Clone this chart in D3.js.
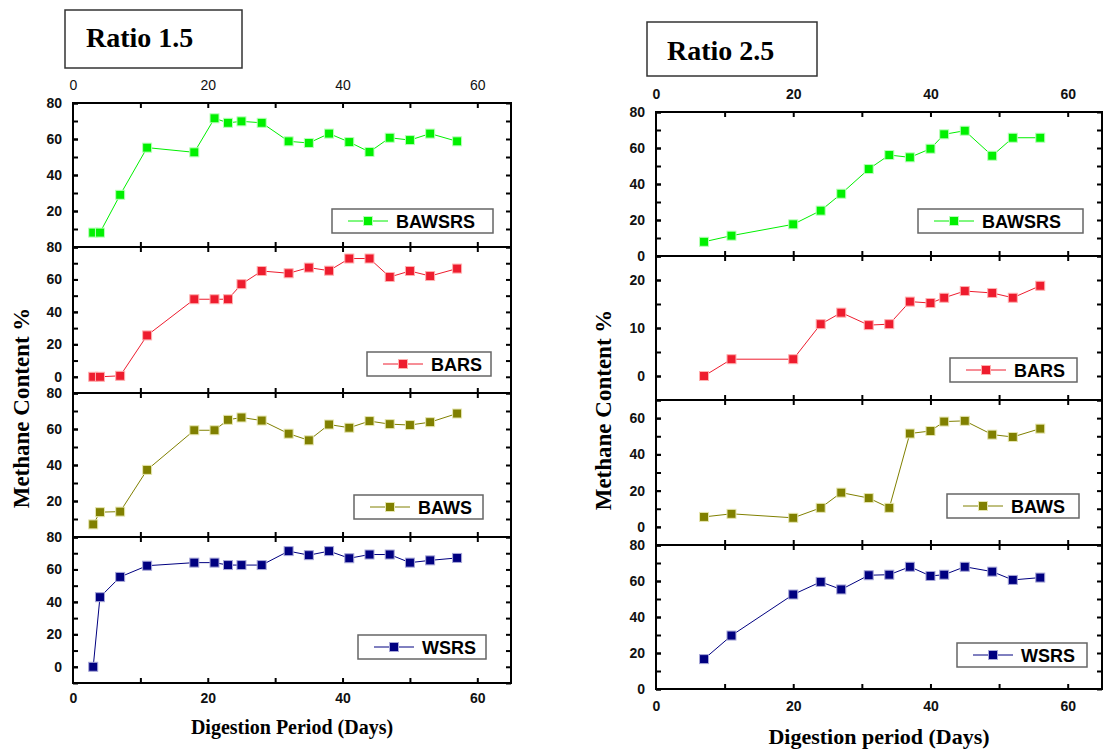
<!DOCTYPE html>
<html>
<head>
<meta charset="utf-8">
<script src="https://cdn.jsdelivr.net/npm/d3@7/dist/d3.min.js"></script>
<style>
  html, body { margin: 0; padding: 0; background: #fff; }
  svg { display: block; }
  .tick text { font-family: "Liberation Sans", Arial, sans-serif; font-weight: bold; font-size: 14px; fill: #111; }
</style>
</head>
<body>
<svg id="chart" width="1105" height="751"></svg>
<script>
// ---------------- DATA ----------------
const seriesNames = ["BAWSRS", "BARS", "BAWS", "WSRS"];
const seriesColors = ["#00f000", "#ee1c2e", "#808000", "#000080"];
const markerEdge = ["#b8ffb8", "#ffb0b0", "#e6e6b0", "#a8a8d8"];

const days15 = [3, 4, 7, 11, 18, 21, 23, 25, 28, 32, 35, 38, 41, 44, 47, 50, 53, 57];
const r15_BAWSRS = [8, 8, 29, 55.2, 52.6, 71.5, 69, 69.8, 69, 58.7, 57.8, 63, 58.3, 52.8, 60.7, 59.4, 63, 58.7];
const r15_BARS = [0, 0, 0.6, 25.5, 47.8, 47.8, 47.8, 57.1, 65.2, 63.8, 67.3, 65.4, 72.9, 72.9, 61.5, 65.2, 62.1, 66.7];
const r15_BAWS = [7, 13.8, 14.1, 37.3, 59.3, 59.3, 65.1, 66.4, 64.7, 57.4, 53.7, 62.5, 60.7, 64.4, 62.7, 62.2, 63.8, 68.6];
const r15_WSRS = [0, 42.9, 55.4, 62.3, 64.2, 64.2, 62.7, 62.7, 62.7, 71.3, 68.8, 71.3, 66.9, 69.2, 69.2, 64.2, 65.6, 67.1];

const days25 = [7, 11, 20, 24, 27, 31, 34, 37, 40, 42, 45, 49, 52, 56];
const r25_BAWSRS = [7.9, 11.3, 17.6, 25.2, 34.6, 48.3, 56.1, 54.8, 59.6, 67.6, 69.6, 55.7, 65.7, 65.7];
const r25_BARS = [0, 3.5, 3.5, 10.8, 13.2, 10.6, 10.8, 15.5, 15.2, 16.3, 17.7, 17.3, 16.3, 18.8];
const r25_BAWS = [5.5, 7.2, 5.0, 10.5, 18.9, 15.9, 10.5, 51.5, 52.9, 58.1, 58.5, 50.9, 49.6, 54.2];
const r25_WSRS = [16.6, 29.7, 52.5, 59.5, 55.3, 63.2, 63.5, 67.9, 62.8, 63.5, 67.9, 65.2, 60.6, 61.9];

const xDomain = [0, 65];
const xTickLabels = [0, 20, 40, 60];
const xMinorTicks = [10, 20, 30, 40, 50, 60];

const yDomains15 = [[0, 80], [-10, 80], [0, 80], [-10, 80]];
const yLabels15 = [[20, 40, 60, 80], [0, 20, 40, 60, 80], [20, 40, 60, 80], [0, 20, 40, 60, 80]];
const yStep15 = [10, 10, 10, 10];

const yDomains25 = [[0, 80], [-5, 25], [-10, 70], [0, 80]];
const yLabels25 = [[0, 20, 40, 60, 80], [0, 10, 20], [0, 20, 40, 60], [0, 20, 40, 60, 80]];
const yStep25 = [10, 5, 10, 10];

// ---------------- LAYOUT ----------------
const svg = d3.select("#chart");

const charts = [
  {
    title: "Ratio 1.5", titleBox: [65, 10, 177, 58], titleX: 86, titleY: 47,
    xr: [73, 511], bounds: [103, 247, 393, 537, 683],
    days: days15, series: [r15_BAWSRS, r15_BARS, r15_BAWS, r15_WSRS],
    yDomains: yDomains15, yLabels: yLabels15, yStep: yStep15,
    topLabelY: 90, topBold: false, bottomLabelY: 703,
    xTitle: "Digestion Period (Days)", xTitleX: 292, xTitleY: 734, xTitleSize: 20,
    yTitleX: 29, yTitleY: 408,
    legend: [[18, 14, 161], [20, 17, 124], [28, 18, 129], [25, 24, 128]]
  },
  {
    title: "Ratio 2.5", titleBox: [647, 22, 170, 54], titleX: 667, titleY: 60,
    xr: [656, 1102], bounds: [112, 256, 400, 545, 689],
    days: days25, series: [r25_BAWSRS, r25_BARS, r25_BAWS, r25_WSRS],
    yDomains: yDomains25, yLabels: yLabels25, yStep: yStep25,
    topLabelY: 99, topBold: true, bottomLabelY: 711,
    xTitle: "Digestion period (Days)", xTitleX: 879, xTitleY: 744, xTitleSize: 22,
    yTitleX: 611, yTitleY: 410,
    legend: [[19, 23, 165], [25, 18, 127], [23, 27, 132], [15, 22, 130]]
  }
];

charts.forEach(c => {
  // title box
  svg.append("rect")
    .attr("x", c.titleBox[0]).attr("y", c.titleBox[1])
    .attr("width", c.titleBox[2]).attr("height", c.titleBox[3])
    .attr("fill", "#fff").attr("stroke", "#333").attr("stroke-width", 1.5);
  svg.append("text")
    .attr("x", c.titleX).attr("y", c.titleY)
    .attr("font-family", "'Liberation Serif', 'Times New Roman', serif")
    .attr("font-weight", "bold").attr("font-size", 28)
    .text(c.title);

  const x = d3.scaleLinear().domain(xDomain).range(c.xr);
  const left = c.xr[0], right = c.xr[1];

  c.series.forEach((vals, i) => {
    const top = c.bounds[i], bottom = c.bounds[i + 1];
    const dom = c.yDomains[i];
    const y = d3.scaleLinear().domain(dom).range([bottom, top]);
    const minor = d3.range(Math.ceil(dom[0] / c.yStep[i]) * c.yStep[i], dom[1] + 0.001, c.yStep[i]);

    const g = svg.append("g");

    const gl = g.append("g").attr("transform", `translate(${left},0)`)
      .call(d3.axisLeft(y).tickValues(minor).tickSize(-5).tickFormat(""));
    const gl2 = g.append("g").attr("transform", `translate(${left},0)`)
      .call(d3.axisLeft(y).tickValues(c.yLabels[i]).tickSize(-5).tickPadding(11).tickFormat(d3.format("d")));
    const gr = g.append("g").attr("transform", `translate(${right},0)`)
      .call(d3.axisRight(y).tickValues(minor).tickSize(-5).tickFormat(""));
    const gt = g.append("g").attr("transform", `translate(0,${top})`)
      .call(d3.axisTop(x).tickValues(xMinorTicks).tickSize(-5).tickFormat(""));
    const gb = g.append("g").attr("transform", `translate(0,${bottom})`)
      .call(d3.axisBottom(x).tickValues(xMinorTicks).tickSize(-5).tickFormat(""));

    [gl, gl2, gr, gt, gb].forEach(a => {
      a.select(".domain").remove();
      a.selectAll(".tick line").attr("stroke", "#000").attr("stroke-width", 2);
    });

    const pts = c.days.map((d, k) => [d, vals[k]]);
    g.append("path")
      .datum(pts)
      .attr("fill", "none")
      .attr("stroke", seriesColors[i])
      .attr("stroke-width", 1)
      .attr("d", d3.line().x(d => x(d[0])).y(d => y(d[1])));

    const ms = 9;
    g.selectAll("rect.pt").data(pts).enter().append("rect")
      .attr("class", "pt")
      .attr("x", d => x(d[0]) - ms / 2).attr("y", d => y(d[1]) - ms / 2)
      .attr("width", ms).attr("height", ms)
      .attr("fill", seriesColors[i])
      .attr("stroke", markerEdge[i]).attr("stroke-width", 1);

    const [gapR, gapB, w] = c.legend[i];
    const lx = right - gapR - w, ly = bottom - gapB - 24;
    const lg = g.append("g").attr("transform", `translate(${lx},${ly})`);
    lg.append("rect").attr("width", w).attr("height", 24)
      .attr("fill", "#fff").attr("stroke", "#666").attr("stroke-width", 1.5);
    lg.append("line").attr("x1", 16).attr("x2", 56).attr("y1", 12).attr("y2", 12)
      .attr("stroke", seriesColors[i]).attr("stroke-width", 1);
    lg.append("rect").attr("x", 36 - ms / 2).attr("y", 12 - ms / 2)
      .attr("width", ms).attr("height", ms)
      .attr("fill", seriesColors[i]).attr("stroke", markerEdge[i]).attr("stroke-width", 1);
    lg.append("text").attr("x", 64).attr("y", 19)
      .attr("font-family", "'Liberation Sans', Arial, sans-serif")
      .attr("font-weight", "bold").attr("font-size", 18)
      .text(seriesNames[i]);

    g.append("rect").attr("x", left).attr("y", top)
      .attr("width", right - left).attr("height", bottom - top)
      .attr("fill", "none").attr("stroke", "#000").attr("stroke-width", 2);
  });

  const topAx = svg.append("g").attr("transform", `translate(0,${c.bounds[0]})`)
    .call(d3.axisTop(x).tickValues(xTickLabels).tickSize(0).tickPadding(c.bounds[0] - c.topLabelY));
  topAx.select(".domain").remove();
  topAx.selectAll("text").style("font-weight", c.topBold ? "bold" : "normal").attr("dy", 0);

  const nb = c.bounds.length - 1;
  const botAx = svg.append("g").attr("transform", `translate(0,${c.bounds[nb]})`)
    .call(d3.axisBottom(x).tickValues(xTickLabels).tickSize(0).tickPadding(0));
  botAx.select(".domain").remove();
  botAx.selectAll("text").attr("y", c.bottomLabelY - c.bounds[nb]).attr("dy", 0);

  svg.append("text")
    .attr("x", c.xTitleX).attr("y", c.xTitleY)
    .attr("text-anchor", "middle")
    .attr("font-family", "'Liberation Serif', 'Times New Roman', serif")
    .attr("font-weight", "bold").attr("font-size", c.xTitleSize)
    .text(c.xTitle);
  svg.append("text")
    .attr("transform", `translate(${c.yTitleX},${c.yTitleY}) rotate(-90)`)
    .attr("text-anchor", "middle")
    .attr("font-family", "'Liberation Serif', 'Times New Roman', serif")
    .attr("font-weight", "bold").attr("font-size", 23)
    .text("Methane Content %");
});
</script>
</body>
</html>
